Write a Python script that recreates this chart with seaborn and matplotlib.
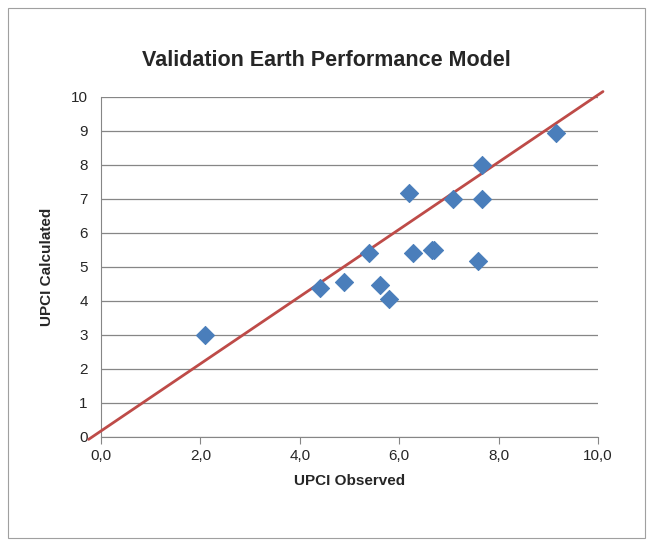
import matplotlib
matplotlib.use("Agg")
import matplotlib.pyplot as plt
import seaborn as sns
import pandas as pd
from matplotlib.patches import Rectangle

observed = [2.10, 4.40, 4.89, 5.39, 5.62, 5.79, 6.20, 6.27, 6.66, 6.70, 7.09, 7.66, 7.66, 7.58, 9.16]
calculated = [3.00, 4.38, 4.56, 5.40, 4.48, 4.05, 7.19, 5.40, 5.50, 5.50, 7.00, 8.01, 7.00, 5.19, 8.94]
line_x = [-0.25, 10.1]
line_y = [-0.07, 10.16]

df = pd.DataFrame({"obs": observed, "calc": calculated})

sns.set_style("white")
plt.rcParams['font.family'] = ['Liberation Sans', 'DejaVu Sans']
fig = plt.figure(figsize=(6.53, 5.46), dpi=100)
ax = fig.add_axes([101/653, 1-437/546, 497/653, 340/546])
fig.patches.append(Rectangle((8/653, 8/546), 637/653, 530/546, transform=fig.transFigure,
                             fill=False, edgecolor="#a0a0a0", linewidth=0.8))

ax.plot(line_x, line_y, color="#be4b48", lw=2, clip_on=False, zorder=3)
sns.scatterplot(data=df, x="obs", y="calc", marker="D", s=85, color="#4a7ebb",
                edgecolor="#4a7ebb", ax=ax, zorder=4, clip_on=False)

ax.set_xlim(0, 10)
ax.set_ylim(0, 10)
ax.set_xticks(range(0, 11, 2))
ax.set_xticklabels([f"{v},0" for v in range(0, 11, 2)])
ax.set_yticks(range(0, 11))
ax.yaxis.grid(True, color="#868686", lw=0.9)
ax.set_axisbelow(True)
for s in ["top", "right"]:
    ax.spines[s].set_visible(False)
for s in ["left", "bottom"]:
    ax.spines[s].set_color("#868686")
ax.tick_params(axis="x", bottom=True, length=5, color="#868686", labelsize=11)
ax.tick_params(axis="y", left=False, labelsize=11, pad=6)
ax.set_xlabel("UPCI Observed", fontsize=11, fontweight="bold", labelpad=8)
ax.set_ylabel("UPCI Calculated", fontsize=11, fontweight="bold", labelpad=12)
fig.text(0.5, 1-60/546, "Validation Earth Performance Model", ha="center", va="center",
         fontsize=15.5, fontweight="bold")
fig.savefig("out.png", dpi=100)
